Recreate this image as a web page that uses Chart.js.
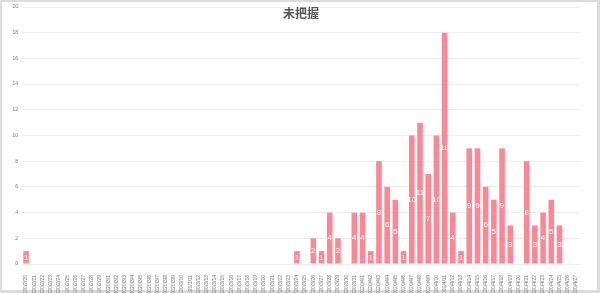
<!DOCTYPE html>
<html>
<head>
<meta charset="utf-8">
<script src="https://cdn.jsdelivr.net/npm/chart.js@4/dist/chart.umd.min.js"></script>
<style>
  html, body { margin: 0; padding: 0; background: #dcdcdc; }
  #frame { position: absolute; left: 2px; top: 2px; width: 595px; height: 288px; background: #fff; }
  #wrap { position: absolute; left: 0; top: 0; width: 600px; height: 293px; }
  #title { position: absolute; left: 0; top: 4px; width: 602px; text-align: center;
           font: bold 12px "Noto Sans CJK JP", "Noto Sans", sans-serif; color: #555; line-height: 18px; }
</style>
</head>
<body>
<div id="frame"></div>
<div id="wrap"><canvas id="c" width="600" height="293"></canvas></div>
<div id="title">未把握</div>
<script>
const categories = [
  "2020/2/20","2020/2/21","2020/2/22","2020/2/23","2020/2/24","2020/2/25","2020/2/26","2020/2/27","2020/2/28","2020/2/29",
  "2020/3/1","2020/3/2","2020/3/3","2020/3/4","2020/3/5","2020/3/6","2020/3/7","2020/3/8","2020/3/9","2020/3/10",
  "2020/3/11","2020/3/12","2020/3/13","2020/3/14","2020/3/15","2020/3/16","2020/3/17","2020/3/18","2020/3/19","2020/3/20",
  "2020/3/21","2020/3/22","2020/3/23","2020/3/24","2020/3/25","2020/3/26","2020/3/27","2020/3/28","2020/3/29","2020/3/30",
  "2020/3/31","2020/4/1","2020/4/2","2020/4/3","2020/4/4","2020/4/5","2020/4/6","2020/4/7","2020/4/8","2020/4/9",
  "2020/4/10","2020/4/11","2020/4/12","2020/4/13","2020/4/14","2020/4/15","2020/4/16","2020/4/17","2020/4/18","2020/4/19",
  "2020/4/20","2020/4/21","2020/4/22","2020/4/23","2020/4/24","2020/4/25","2020/4/26","2020/4/27"
];
const unknownCounts = [
  1,0,0,0,0,0,0,0,0,0,
  0,0,0,0,0,0,0,0,0,0,
  0,0,0,0,0,0,0,0,0,0,
  0,0,0,1,0,2,1,4,2,0,
  4,4,1,8,6,5,1,10,11,7,
  10,18,4,1,9,9,6,5,9,3,
  0,8,3,4,5,3,0,0
];
const yTicks = [0,2,4,6,8,10,12,14,16,18,20];

const valueLabels = {
  id: 'valueLabels',
  afterDatasetsDraw(chart) {
    const ctx = chart.ctx;
    const meta = chart.getDatasetMeta(0);
    ctx.save();
    ctx.fillStyle = '#ffffff';
    ctx.font = '8px "Liberation Sans", sans-serif';
    ctx.textAlign = 'center';
    ctx.textBaseline = 'middle';
    meta.data.forEach((bar, i) => {
      const v = unknownCounts[i];
      if (!v) return;
      const p = bar.getProps(['x','y','base'], true);
      ctx.fillText(String(v), p.x, (p.y + p.base) / 2);
    });
    ctx.restore();
  }
};

new Chart(document.getElementById('c'), {
  type: 'bar',
  data: {
    labels: categories,
    datasets: [{
      label: '未把握',
      data: unknownCounts,
      backgroundColor: '#ff8692',
      borderWidth: 0,
      barPercentage: 0.68,
      categoryPercentage: 1.0
    }]
  },
  options: {
    responsive: false,
    animation: false,
    devicePixelRatio: 1,
    layout: { padding: { left: 0, top: 7, right: 20, bottom: 0 } },
    plugins: { legend: { display: false }, title: { display: false }, tooltip: { enabled: false } },
    scales: {
      x: {
        grid: { display: false },
        border: { display: false },
        ticks: {
          autoSkip: false, minRotation: 90, maxRotation: 90,
          font: { size: 5, family: '"Liberation Sans", sans-serif' }, color: '#777', padding: 3
        },
        afterFit(s) { s.height = 29; }
      },
      y: {
        min: 0, max: 20,
        afterBuildTicks(s) { s.ticks = yTicks.map(v => ({ value: v })); },
        grid: { color: '#eeeeee', drawTicks: false },
        border: { display: false },
        ticks: { font: { size: 5, family: '"Liberation Sans", sans-serif' }, color: '#777', padding: 4 },
        afterFit(s) { s.width = 22; }
      }
    }
  },
  plugins: [valueLabels]
});
</script>
</body>
</html>
